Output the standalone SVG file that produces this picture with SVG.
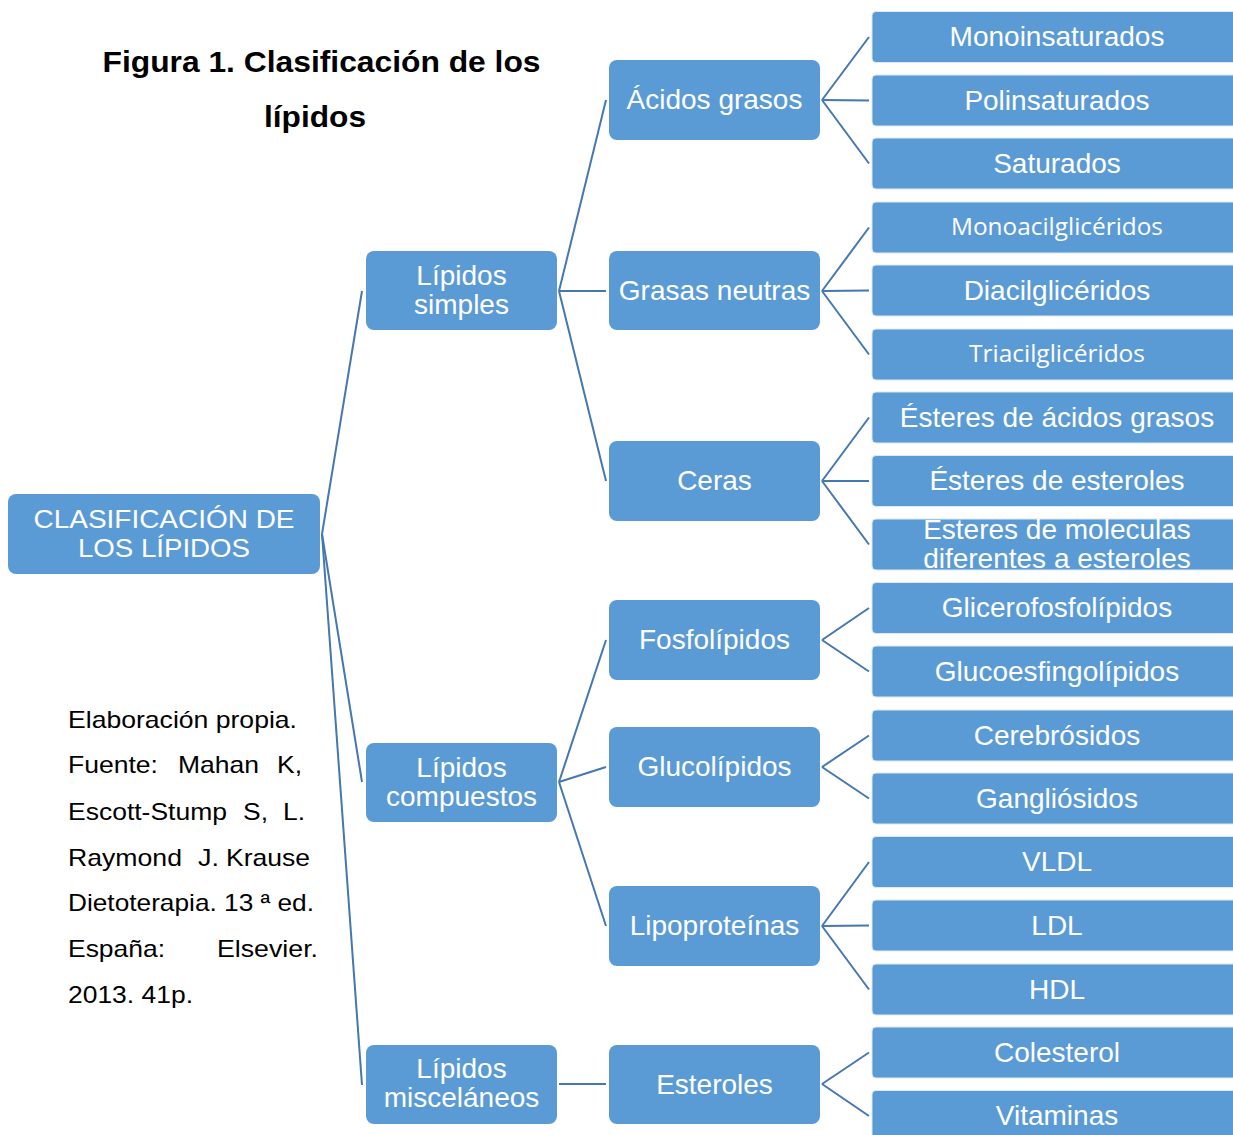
<svg xmlns="http://www.w3.org/2000/svg" width="1233" height="1135" viewBox="0 0 1233 1135">
<style>
.n{fill:#5B9BD5;}
.lf{fill:#5B9BD5;stroke:#DCE9F6;stroke-width:1;}
.t{font-family:"Liberation Sans",Arial,sans-serif;font-size:28px;fill:#fff;text-anchor:middle;}
.tc{font-family:"Open Sans","Lato",sans-serif;font-size:24px;fill:#fff;text-anchor:middle;}
.r{font-family:"Liberation Sans",Arial,sans-serif;font-size:26px;fill:#fff;text-anchor:middle;}
.c{font-family:"Liberation Sans",Arial,sans-serif;font-size:24px;fill:#000;}
.ti{font-family:"Liberation Sans",Arial,sans-serif;font-size:30px;font-weight:bold;fill:#000;text-anchor:middle;}
.k line{stroke:#4577B0;stroke-width:2;fill:none;}
</style>
<rect width="1233" height="1135" fill="#fff"/>

<g id="title">
<text class="ti" x="321.5" y="72" textLength="438" lengthAdjust="spacingAndGlyphs">Figura 1. Clasificación de los</text>
<text class="ti" x="315" y="127" textLength="102" lengthAdjust="spacingAndGlyphs">lípidos</text>
</g>

<g id="citation">
<text class="c" x="68" y="727.5" textLength="229" lengthAdjust="spacingAndGlyphs">Elaboración propia.</text>
<text class="c" x="68" y="772.5" textLength="90" lengthAdjust="spacingAndGlyphs">Fuente:</text>
<text class="c" x="178" y="772.5" textLength="81" lengthAdjust="spacingAndGlyphs">Mahan</text>
<text class="c" x="277" y="772.5" textLength="25" lengthAdjust="spacingAndGlyphs">K,</text>
<text class="c" x="68" y="819.5" textLength="159" lengthAdjust="spacingAndGlyphs">Escott-Stump</text>
<text class="c" x="243" y="819.5" textLength="25" lengthAdjust="spacingAndGlyphs">S,</text>
<text class="c" x="283" y="819.5" textLength="22" lengthAdjust="spacingAndGlyphs">L.</text>
<text class="c" x="68" y="865.5" textLength="114" lengthAdjust="spacingAndGlyphs">Raymond</text>
<text class="c" x="198" y="865.5" textLength="21" lengthAdjust="spacingAndGlyphs">J.</text>
<text class="c" x="226" y="865.5" textLength="84" lengthAdjust="spacingAndGlyphs">Krause</text>
<text class="c" x="68" y="910.5" textLength="246" lengthAdjust="spacingAndGlyphs">Dietoterapia. 13 ª ed.</text>
<text class="c" x="68" y="956.5" textLength="97" lengthAdjust="spacingAndGlyphs">España:</text>
<text class="c" x="217" y="956.5" textLength="101" lengthAdjust="spacingAndGlyphs">Elsevier.</text>
<text class="c" x="68" y="1002.5" textLength="125" lengthAdjust="spacingAndGlyphs">2013. 41p.</text>
</g>

<g id="connectors" class="k">
<line x1="322" y1="534" x2="362" y2="291"/>
<line x1="322" y1="534" x2="362" y2="782"/>
<line x1="322" y1="534" x2="362" y2="1085"/>
<line x1="559" y1="291" x2="606" y2="100"/>
<line x1="559" y1="291" x2="606" y2="291"/>
<line x1="559" y1="291" x2="606" y2="481"/>
<line x1="559" y1="782" x2="606" y2="640"/>
<line x1="559" y1="782" x2="606" y2="767"/>
<line x1="559" y1="782" x2="606" y2="926"/>
<line x1="559" y1="1084" x2="606" y2="1084"/>
<line x1="822" y1="100" x2="869" y2="37"/>
<line x1="822" y1="100" x2="869" y2="100.5"/>
<line x1="822" y1="100" x2="869" y2="163.5"/>
<line x1="822" y1="291" x2="869" y2="227.5"/>
<line x1="822" y1="291" x2="869" y2="290.5"/>
<line x1="822" y1="291" x2="869" y2="354.5"/>
<line x1="822" y1="481" x2="869" y2="417.5"/>
<line x1="822" y1="481" x2="869" y2="481"/>
<line x1="822" y1="481" x2="869" y2="544.5"/>
<line x1="822" y1="640" x2="869" y2="608"/>
<line x1="822" y1="640" x2="869" y2="671.5"/>
<line x1="822" y1="767" x2="869" y2="735.5"/>
<line x1="822" y1="767" x2="869" y2="798.5"/>
<line x1="822" y1="926" x2="869" y2="862"/>
<line x1="822" y1="926" x2="869" y2="925.5"/>
<line x1="822" y1="926" x2="869" y2="989.5"/>
<line x1="822" y1="1084" x2="869" y2="1052.5"/>
<line x1="822" y1="1084" x2="869" y2="1116"/>
</g>

<g id="root">
<rect class="n" x="8" y="494" width="312" height="80" rx="8"/>
<text class="r" x="164" y="528" textLength="261" lengthAdjust="spacingAndGlyphs">CLASIFICACIÓN DE</text>
<text class="r" x="164" y="557" textLength="172" lengthAdjust="spacingAndGlyphs">LOS LÍPIDOS</text>
</g>

<g id="lipidos-simples">
<rect class="n" x="366" y="251" width="191" height="79" rx="8"/>
<text class="t" x="461.5" y="285">Lípidos</text>
<text class="t" x="461.5" y="314">simples</text>
</g>
<g id="lipidos-compuestos">
<rect class="n" x="366" y="743" width="191" height="79" rx="8"/>
<text class="t" x="461.5" y="776.5">Lípidos</text>
<text class="t" x="461.5" y="805.5">compuestos</text>
</g>
<g id="lipidos-miscelaneos">
<rect class="n" x="366" y="1045" width="191" height="79" rx="8"/>
<text class="t" x="461.5" y="1078">Lípidos</text>
<text class="t" x="461.5" y="1107">misceláneos</text>
</g>

<g id="acidos-grasos">
<rect class="n" x="609" y="60" width="211" height="80" rx="8"/>
<text class="t" x="714.5" y="109">Ácidos grasos</text>
</g>
<g id="grasas-neutras">
<rect class="n" x="609" y="251" width="211" height="79" rx="8"/>
<text class="t" x="714.5" y="299.5">Grasas neutras</text>
</g>
<g id="ceras">
<rect class="n" x="609" y="441" width="211" height="80" rx="8"/>
<text class="t" x="714.5" y="490">Ceras</text>
</g>
<g id="fosfolipidos">
<rect class="n" x="609" y="600" width="211" height="80" rx="8"/>
<text class="t" x="714.5" y="649">Fosfolípidos</text>
</g>
<g id="glucolipidos">
<rect class="n" x="609" y="727" width="211" height="80" rx="8"/>
<text class="t" x="714.5" y="776">Glucolípidos</text>
</g>
<g id="lipoproteinas">
<rect class="n" x="609" y="886" width="211" height="80" rx="8"/>
<text class="t" x="714.5" y="935">Lipoproteínas</text>
</g>
<g id="esteroles">
<rect class="n" x="609" y="1045" width="211" height="79" rx="8"/>
<text class="t" x="714.5" y="1093.5">Esteroles</text>
</g>

<g id="monoinsaturados">
<rect class="lf" x="872" y="11.5" width="372" height="51" rx="4"/>
<text class="t" x="1057" y="46">Monoinsaturados</text>
</g>
<g id="polinsaturados">
<rect class="lf" x="872" y="75" width="372" height="51" rx="4"/>
<text class="t" x="1057" y="109.5">Polinsaturados</text>
</g>
<g id="saturados">
<rect class="lf" x="872" y="138" width="372" height="51" rx="4"/>
<text class="t" x="1057" y="172.5">Saturados</text>
</g>
<g id="monoacilgliceridos">
<rect class="lf" x="872" y="202" width="372" height="51" rx="4"/>
<text class="tc" x="1057" y="234.5" textLength="212" lengthAdjust="spacingAndGlyphs">Monoacilglicéridos</text>
</g>
<g id="diacilgliceridos">
<rect class="lf" x="872" y="265" width="372" height="51" rx="4"/>
<text class="t" x="1057" y="299.5">Diacilglicéridos</text>
</g>
<g id="triacilgliceridos">
<rect class="lf" x="872" y="329" width="372" height="51" rx="4"/>
<text class="tc" x="1057" y="361.5" textLength="176" lengthAdjust="spacingAndGlyphs">Triacilglicéridos</text>
</g>
<g id="esteres-acidos-grasos">
<rect class="lf" x="872" y="392" width="372" height="51" rx="4"/>
<text class="t" x="1057" y="426.5">Ésteres de ácidos grasos</text>
</g>
<g id="esteres-esteroles">
<rect class="lf" x="872" y="455.5" width="372" height="51" rx="4"/>
<text class="t" x="1057" y="490">Ésteres de esteroles</text>
</g>
<g id="esteres-moleculas">
<rect class="lf" x="872" y="519" width="372" height="51" rx="4"/>
<text class="t" x="1057" y="539">Esteres de moleculas</text>
<text class="t" x="1057" y="568">diferentes a esteroles</text>
</g>
<g id="glicerofosfolipidos">
<rect class="lf" x="872" y="582.5" width="372" height="51" rx="4"/>
<text class="t" x="1057" y="617">Glicerofosfolípidos</text>
</g>
<g id="glucoesfingolipidos">
<rect class="lf" x="872" y="646" width="372" height="51" rx="4"/>
<text class="t" x="1057" y="680.5">Glucoesfingolípidos</text>
</g>
<g id="cerebrosidos">
<rect class="lf" x="872" y="710" width="372" height="51" rx="4"/>
<text class="t" x="1057" y="744.5">Cerebrósidos</text>
</g>
<g id="gangliosidos">
<rect class="lf" x="872" y="773" width="372" height="51" rx="4"/>
<text class="t" x="1057" y="807.5">Gangliósidos</text>
</g>
<g id="vldl">
<rect class="lf" x="872" y="836.5" width="372" height="51" rx="4"/>
<text class="t" x="1057" y="871">VLDL</text>
</g>
<g id="ldl">
<rect class="lf" x="872" y="900" width="372" height="51" rx="4"/>
<text class="t" x="1057" y="934.5">LDL</text>
</g>
<g id="hdl">
<rect class="lf" x="872" y="964" width="372" height="51" rx="4"/>
<text class="t" x="1057" y="998.5">HDL</text>
</g>
<g id="colesterol">
<rect class="lf" x="872" y="1027" width="372" height="51" rx="4"/>
<text class="t" x="1057" y="1061.5">Colesterol</text>
</g>
<g id="vitaminas">
<rect class="lf" x="872" y="1090.5" width="372" height="51" rx="4"/>
<text class="t" x="1057" y="1125">Vitaminas</text>
</g>
</svg>
